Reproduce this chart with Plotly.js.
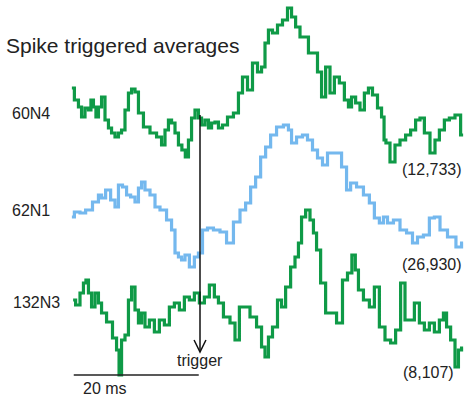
<!DOCTYPE html>
<html>
<head>
<meta charset="utf-8">
<script src="https://cdn.plot.ly/plotly-3.0.1.min.js"></script>
<style>
  html, body { margin: 0; padding: 0; background: #ffffff; }
  #chart { width: 464px; height: 400px; }
</style>
</head>
<body>
<div id="chart"></div>
<script>
// Spike triggered averages for three units; time in ms relative to the trigger spike,
// amplitude in arbitrary units relative to each unit's own baseline.
const unitNames = ["60N4", "62N1", "132N3"];
const spikeCounts = ["(12,733)", "(26,930)", "(8,107)"];

const time60N4 = [-20.5,-19.7,-19.2,-18.7,-18.1,-17.6,-17.3,-16.8,-16.5,-16.0,-15.5,-14.9,-14.4,-13.9,-13.3,-12.8,-12.3,-11.7,-11.2,-10.7,-10.1,-9.6,-8.5,-7.5,-6.4,-5.9,-5.3,-4.8,-4.3,-3.7,-3.2,-2.6,-2.1,-1.6,-1.1,-0.5,0,0.5,1.1,1.6,2.1,2.7,3.2,4.0,4.8,5.9,6.4,7.2,8.0,8.8,9.6,10.1,10.7,11.2,12.0,12.8,13.6,14.4,14.9,15.7,16.3,17.1,17.6,18.4,19.2,19.7,20.5,21.1,21.9,22.7,23.5,24.0,24.5,25.3,25.9,26.7,27.2,28.0,28.8,29.3,29.6,29.9,30.9,31.5,32.5,33.3,34.1,34.9,35.5,36.3,37.3,37.9,38.7,39.5,40.3,41.3,42.1];
const sta60N4 = [27,15,8,-2,7,5,15,8,-2,8,18,-5,-13,-18,-22,-18,-15,5,22,26,23,2,-12,-18,-22,-30,-15,-5,-8,-18,-30,-35,-42,-25,-3,5,-3,-10,-5,-13,-8,-7,-13,-10,-2,2,22,38,25,52,43,48,72,85,82,90,95,107,98,88,78,78,62,62,43,18,48,22,38,32,15,8,18,12,5,22,27,20,7,-2,-25,-28,-47,-30,-25,-20,-15,-5,-3,-18,-38,-25,-15,-5,-3,0,-20];

const time62N1 = [-20.5,-19.7,-18.7,-17.9,-16.5,-16.0,-15.5,-14.7,-13.9,-13.3,-12.8,-12.0,-11.5,-10.7,-10.1,-9.6,-9.1,-8.5,-7.5,-6.9,-5.9,-4.8,-4.3,-3.7,-3.2,-2.7,-2.1,-1.3,-0.5,0,0.8,1.6,2.7,3.7,4.8,5.9,6.9,7.7,8.5,9.3,10.1,10.9,11.7,12.8,13.9,14.4,14.9,16.0,16.8,17.6,18.4,19.2,20.0,20.8,22.1,23.2,23.7,24.5,25.6,26.7,27.5,28.3,29.1,29.6,30.4,31.5,32.5,33.6,34.4,35.2,36.3,37.1,37.9,38.9,40.3,41.6,42.1];
const sta62N1 = [-7,-2,-3,0,8,15,12,20,10,3,25,23,15,13,8,22,28,20,15,3,0,-10,-20,-43,-47,-50,-45,-57,-47,-43,-20,-18,-20,-22,-33,-12,0,7,23,33,53,63,75,83,85,80,67,73,75,70,60,52,45,57,57,43,20,27,23,15,7,-8,-13,-7,-13,-10,-20,-23,-33,-27,-25,-8,-7,-20,-27,-37,-33];

const time132N3 = [-20.3,-19.5,-18.9,-18.4,-18.1,-17.6,-17.1,-16.5,-16.0,-15.5,-14.4,-13.6,-13.1,-12.8,-12.3,-11.7,-11.2,-10.7,-10.1,-9.6,-9.1,-8.5,-7.7,-6.9,-6.1,-5.3,-4.5,-3.7,-2.9,-2.1,-1.3,-0.5,0.3,1.1,1.9,2.7,3.2,4.3,5.3,5.9,6.7,7.5,8.5,9.6,10.1,10.7,11.2,12.0,12.8,13.3,14.1,14.9,15.5,16.0,16.5,17.3,17.9,18.4,18.9,19.7,20.5,21.3,22.4,23.2,24.0,24.6,25.1,25.6,26.7,27.5,28.3,29.1,30.1,30.9,31.7,32.5,33.1,33.9,34.7,35.5,36.3,37.1,37.9,38.7,39.2,39.7,40.5,41.1,41.6,42.1];
const sta132N3 = [0,-5,7,17,20,7,-7,7,-3,-13,-22,-38,-50,-75,-40,-35,0,13,-10,-23,-13,-27,-20,-32,-20,-25,-7,-3,-10,3,0,7,-3,3,15,3,-3,-17,-23,-40,-7,-7,-17,-27,-47,-57,-37,-27,0,-7,13,33,43,57,83,90,80,67,50,17,-13,-13,-23,20,27,45,30,10,0,-7,13,-27,-40,-43,-30,17,-20,-20,-3,-23,-30,-23,-32,-20,-13,-27,-40,-67,-50,-48];

const scaleBarMs = 20;

// Vertical stacking of the three averages (amplitude units)
const baselines = [285, 190, 100];
const colors = ["#0f9a47", "#74b8ee", "#0f9a47"];
const times = [time60N4, time62N1, time132N3];
const values = [sta60N4, sta62N1, sta132N3];

// Averages are binned, so draw them as centred steps
const traces = values.map((v, i) => ({
  x: times[i],
  y: v.map(a => a + baselines[i]),
  type: "scatter",
  mode: "lines",
  line: { color: colors[i], width: 3.2, shape: "hvh" },
  name: unitNames[i],
  hoverinfo: "skip"
}));

const txt = { family: "Liberation Sans, Arial, sans-serif", color: "#222222" };
const W = 464, H = 400;
function label(text, px, py, size, anchor) {
  return {
    text: text, xref: "paper", yref: "paper",
    x: px / W, y: 1 - py / H,
    xanchor: anchor || "left", yanchor: "middle",
    showarrow: false, font: Object.assign({ size: size }, txt)
  };
}

const annotations = [
  label("Spike triggered averages", 4, 45, 21),
  label(unitNames[0], 10, 114, 16),
  label(unitNames[1], 10, 210, 16),
  label(unitNames[2], 11, 302, 16),
  label(spikeCounts[0], 400, 169, 16),
  label(spikeCounts[1], 400, 264, 16),
  label(spikeCounts[2], 401, 372, 16),
  label("trigger", 175, 360, 16),
  label(scaleBarMs + " ms", 81, 388, 16)
];

const scaleStart = -20.2;
const trigTop = 285, trigTip = 48;
const shapes = [
  // time scale bar
  { type: "line", xref: "x", yref: "y", x0: scaleStart, x1: scaleStart + scaleBarMs, y0: 25, y1: 25,
    line: { color: "#222222", width: 1.5 } },
  // trigger arrow shaft
  { type: "line", xref: "x", yref: "y", x0: 0, x1: 0, y0: trigTop, y1: trigTip,
    line: { color: "#111111", width: 1.5 } },
  // trigger arrow head
  { type: "path", xref: "x", yref: "y",
    path: "M -0.95 60 L 0 " + trigTip + " L 0.95 60",
    line: { color: "#111111", width: 1.5 } }
];

const layout = {
  width: W, height: H,
  margin: { l: 0, r: 0, t: 0, b: 0 },
  paper_bgcolor: "#ffffff", plot_bgcolor: "#ffffff",
  showlegend: false,
  xaxis: { range: [-32, 42.24], visible: false, fixedrange: true },
  yaxis: { range: [0, 400], visible: false, fixedrange: true },
  annotations: annotations,
  shapes: shapes
};

Plotly.newPlot("chart", traces, layout, { staticPlot: true, displayModeBar: false });
</script>
</body>
</html>
